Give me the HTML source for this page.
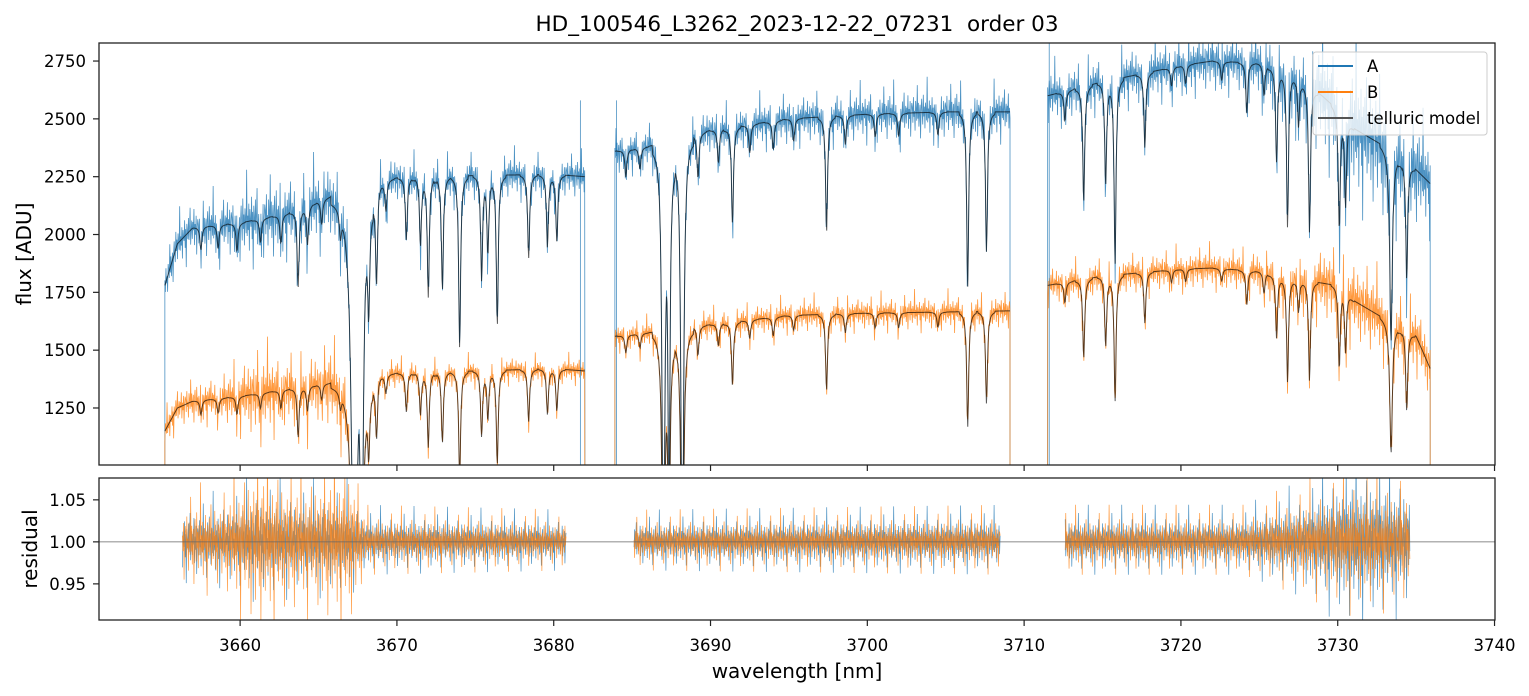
<!DOCTYPE html>
<html><head><meta charset="utf-8"><style>
html,body{margin:0;padding:0;background:#fff}
svg{display:block;font-family:"DejaVu Sans","Liberation Sans",sans-serif}
</style></head><body>
<svg id="c" width="1529" height="696" viewBox="0 0 1529 696">
<defs>
<clipPath id="clipTop"><rect x="99" y="43" width="1396" height="422"/></clipPath>
<clipPath id="clipRes"><rect x="99" y="478" width="1396" height="142"/></clipPath>
</defs>
<rect x="0" y="0" width="1529" height="696" fill="#fff"/>
<text x="797" y="31" text-anchor="middle" font-size="21.5">HD_100546_L3262_2023-12-22_07231&#160; order 03</text>
<g id="topG" clip-path="url(#clipTop)"></g>
<g id="resG" clip-path="url(#clipRes)"></g>
<g id="axesG"></g>
<text x="797" y="678" text-anchor="middle" font-size="20">wavelength [nm]</text>
<text transform="translate(31,254) rotate(-90)" text-anchor="middle" font-size="20">flux [ADU]</text>
<text transform="translate(37,549) rotate(-90)" text-anchor="middle" font-size="20">residual</text>
<g>
<rect x="1313" y="52" width="174" height="83" rx="3" fill="#fff" fill-opacity="0.8" stroke="#ccc"/>
<line x1="1318" y1="66" x2="1353" y2="66" stroke="#1f77b4" stroke-width="2"/>
<text x="1367" y="72" font-size="16.5">A</text>
<line x1="1318" y1="92" x2="1353" y2="92" stroke="#ff7f0e" stroke-width="2"/>
<text x="1367" y="98" font-size="16.5">B</text>
<line x1="1318" y1="118" x2="1353" y2="118" stroke="#555" stroke-width="2"/>
<text x="1367" y="124" font-size="16.5">telluric model</text>
</g>
</svg>
<script>
const segStart=[3655.2,3683.9,3711.5];
const segEnd=[3682.0,3709.1,3735.9];
const resStart=[3656.3,3685.1,3712.6];
const resEnd=[3680.8,3708.5,3734.6];
const contNm=[3655.2,3656,3657,3660,3663,3666,3667,3670,3675,3680,3682,3683.9,3686,3690,3695,3700,3705,3709.1,3711.5,3715,3720,3722,3725,3727,3729,3730.3,3731,3733,3735,3735.9];
const contA=[1780,1960,2030,2050,2090,2170,2190,2245,2255,2260,2250,2360,2380,2450,2500,2520,2530,2530,2600,2660,2730,2750,2740,2700,2600,2520,2460,2380,2280,2220];
const contB=[1150,1250,1280,1300,1330,1360,1375,1400,1410,1420,1410,1560,1575,1610,1650,1660,1665,1670,1780,1820,1850,1855,1840,1810,1790,1775,1715,1635,1560,1420];
const lineNm=[3657.5,3658.6,3659.8,3661.3,3662.6,3663.7,3664.3,3665.2,3666.4,3667.3,3667.75,3668.2,3668.7,3669.3,3670.6,3671.5,3672.0,3672.9,3674.0,3675.4,3675.8,3676.4,3678.4,3679.6,3680.2,
3684.6,3685.5,3687.0,3687.35,3688.2,3689.2,3690.5,3691.4,3692.5,3694.0,3695.3,3697.4,3698.6,3700.5,3702.0,3704.5,3706.4,3707.6,
3712.6,3713.8,3715.2,3715.8,3717.7,3719.4,3720.3,3722.6,3724.2,3725.3,3726.1,3726.8,3727.5,3728.2,3730.1,3730.5,3733.4,3734.4];
const lineDepth=[.05,.05,.06,.05,.06,.16,.08,.05,.05,.95,.9,.2,.18,.06,.12,.13,.23,.22,.33,.2,.15,.29,.16,.14,.13,
.05,.04,.85,.7,.85,.08,.06,.17,.05,.05,.04,.2,.05,.04,.04,.04,.3,.24,
.05,.19,.17,.3,.12,.03,.03,.03,.08,.05,.15,.25,.08,.24,.2,.15,.35,.22];
const lineWidth=[.09,.09,.09,.09,.09,.09,.09,.09,.09,.25,.12,.09,.09,.09,.09,.09,.09,.09,.09,.09,.09,.09,.09,.09,.09,
.09,.09,.12,.09,.12,.09,.09,.09,.09,.09,.09,.09,.09,.09,.09,.09,.09,.09,
.09,.09,.09,.09,.09,.09,.09,.09,.09,.09,.09,.09,.09,.09,.09,.09,.12,.09];
const ampNm=[3655,3659,3661,3664,3667,3668,3682,3684,3709,3711,3724,3728,3731,3736];
const ampA=[.04,.05,.065,.06,.06,.035,.03,.03,.035,.035,.035,.06,.1,.07];
const ampB=[.05,.06,.11,.08,.11,.035,.03,.03,.035,.035,.035,.06,.08,.07];
const noisePattern=[0.3,-0.5,0.8,-0.2,0.1,-0.9,0.6,0.2,-0.4,1.4,-0.3,0.5,-0.7,0.0,0.4,-1.3,0.2,0.7,-0.1,-0.6,
0.9,-0.2,0.3,-0.8,0.5,0.1,-0.4,1.8,-0.5,0.2,-0.3,0.6,-1.0,0.4,0.0,-0.2,0.8,-0.6,0.3,-1.6,
0.5,0.1,-0.3,0.7,-0.4,0.2,1.1,-0.7,0.0,0.4,-0.5,0.3,-0.1,0.9,-0.8,0.2,-0.3,0.6,-1.2,0.1,0.5];
const spikeNm=[3681.7,3684.0,3711.6];
const spikeTop=[2580,2580,2830];
const xTicks=[3660,3670,3680,3690,3700,3710,3720,3730,3740];
const yTicks=[1250,1500,1750,2000,2250,2500,2750];
const rTicks=[0.95,1.00,1.05];

const X0=3651.0,X1=3740.03,Y0=1003.5,Y1=2828,R0=0.907,R1=1.076;
const px=x=>99+(x-X0)/(X1-X0)*1396;
const yt=v=>465-(v-Y0)/(Y1-Y0)*422;
const yr=v=>620-(v-R0)/(R1-R0)*142;
const NS='http://www.w3.org/2000/svg';
function interp(xs,ys,x){if(x<=xs[0])return ys[0];for(let i=1;i<xs.length;i++){if(x<=xs[i]){const t=(x-xs[i-1])/(xs[i]-xs[i-1]);return ys[i-1]+t*(ys[i]-ys[i-1]);}}return ys[ys.length-1];}
function trans(x){let f=1;for(let i=0;i<lineNm.length;i++){const d=(x-lineNm[i])/lineWidth[i];if(Math.abs(d)<6){f*=1-lineDepth[i]/(1+d*d*1.5);}}return f;}
function mk(tag,attrs,parent){const e=document.createElementNS(NS,tag);for(const k in attrs)e.setAttribute(k,attrs[k]);parent.appendChild(e);return e;}
const topG=document.getElementById('topG'),resG=document.getElementById('resG'),axG=document.getElementById('axesG');
const step=0.035;
const modelLines=[];
function series(which){
  const cont=which==='A'?contA:contB, amp=which==='A'?ampA:ampB, off=which==='A'?0:23;
  const color=which==='A'?'#1f77b4':'#ff7f0e';
  for(let s=0;s<segStart.length;s++){
    let pts=[],mpts=[],rpts=[];let i=0;
    pts.push(px(segStart[s]).toFixed(2)+','+yt(0).toFixed(2));
    for(let x=segStart[s];x<=segEnd[s];x+=step,i++){
      const m=interp(contNm,cont,x)*trans(x);
      const n=noisePattern[(i+off+s*7)%noisePattern.length];
      const a=interp(ampNm,amp,x);
      pts.push(px(x).toFixed(2)+','+yt(m*(1+a*n)).toFixed(2));
      mpts.push(px(x).toFixed(2)+','+yt(m).toFixed(2));
      if(x>=resStart[s]&&x<=resEnd[s]) rpts.push(px(x).toFixed(2)+','+yr(1+a*n*0.7).toFixed(2));
    }
    pts.push(px(segEnd[s]).toFixed(2)+','+yt(0).toFixed(2));
    const d=mk('polyline',{points:pts.join(' '),fill:'none',stroke:color,'stroke-width':0.8,'stroke-opacity':0.8},topG);
    
    
    modelLines.push(mpts);
    const r=mk('polyline',{points:rpts.join(' '),fill:'none',stroke:color,'stroke-width':0.7,'stroke-opacity':0.8},resG);
    
    
  }
}
series('A');series('B');
spikeNm.forEach((s,k)=>{
  const e=mk('line',{x1:px(s),x2:px(s),y1:yt(0),y2:yt(spikeTop[k]),stroke:'#1f77b4','stroke-width':0.8,'stroke-opacity':0.8},topG);
  
  
});
modelLines.forEach(m=>{
  const e=mk('polyline',{points:m.join(' '),fill:'none',stroke:'#000','stroke-width':1,'stroke-opacity':0.65},topG);
  
  
});
const ref=mk('line',{x1:99,x2:1495,y1:yr(1),y2:yr(1),stroke:'#666','stroke-width':0.7},resG);


const f1=mk('rect',{x:99,y:43,width:1396,height:422,fill:'none',stroke:'#222','stroke-width':1.3},axG);


const f2=mk('rect',{x:99,y:478,width:1396,height:142,fill:'none',stroke:'#222','stroke-width':1.3},axG);


xTicks.forEach(t=>{
  const x=px(t);
  mk('line',{x1:x,x2:x,y1:465,y2:471,stroke:'#222','stroke-width':1.2},axG);
  mk('line',{x1:x,x2:x,y1:620,y2:626,stroke:'#222','stroke-width':1.2},axG);
  const tx=mk('text',{x:x,y:651,'text-anchor':'middle','font-size':16.5},axG);
  tx.textContent=t;
  
  
});
yTicks.forEach(t=>{
  const y=yt(t);
  mk('line',{x1:93,x2:99,y1:y,y2:y,stroke:'#222','stroke-width':1.2},axG);
  const tx=mk('text',{x:86,y:y+6,'text-anchor':'end','font-size':16.5},axG);
  tx.textContent=t;
  
  
});
rTicks.forEach(t=>{
  const y=yr(t);
  mk('line',{x1:93,x2:99,y1:y,y2:y,stroke:'#222','stroke-width':1.2},axG);
  const tx=mk('text',{x:86,y:y+6,'text-anchor':'end','font-size':16.5},axG);
  tx.textContent=t.toFixed(2);
  
  
});
</script>
</body></html>
